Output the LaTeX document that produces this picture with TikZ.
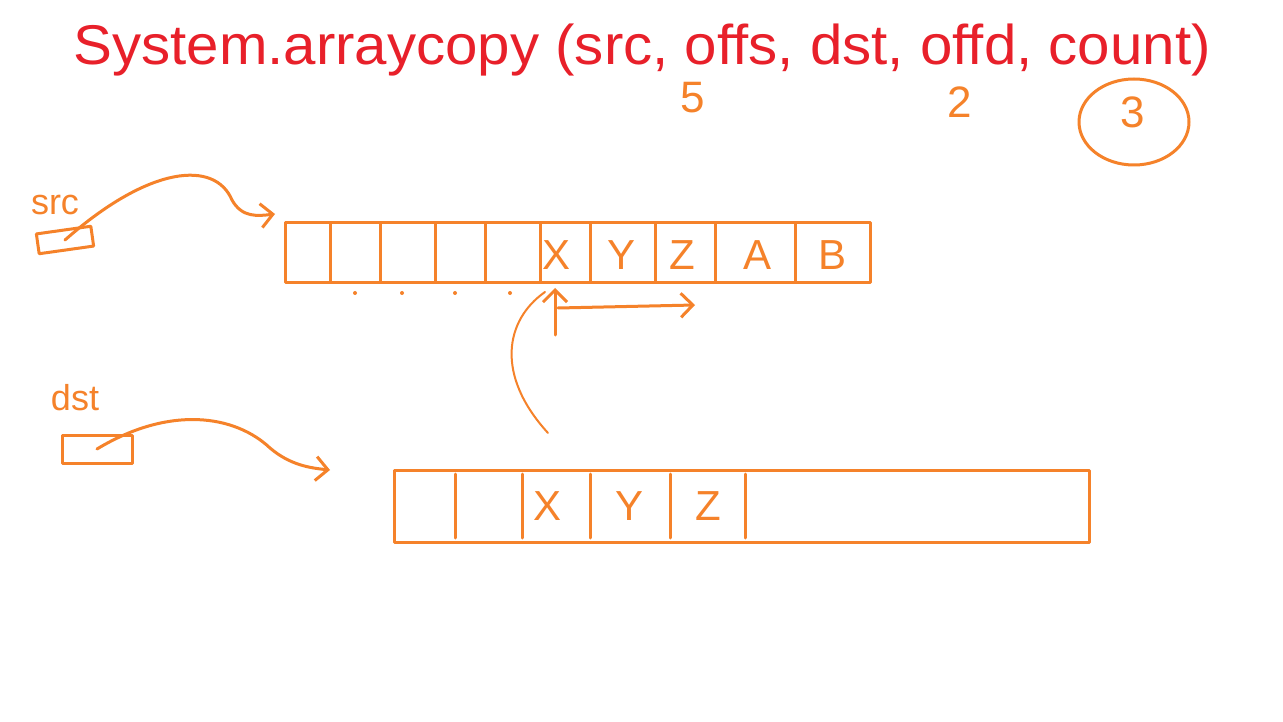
\documentclass[tikz,border=0pt]{standalone}
\usepackage{fontspec}
\setmainfont{Liberation Sans}
\usetikzlibrary{arrows.meta,shapes.geometric}
\definecolor{pen}{HTML}{F5822A}
\definecolor{redpen}{HTML}{E8202A}
\begin{document}
\begin{tikzpicture}[x=1pt,y=-1pt,
  ink/.style={draw=pen,line width=3pt,line cap=round,line join=round},
  arr/.style={ink,-{Straight Barb[length=12pt,width=24pt]}},
  cell/.style={text=pen,font=\fontsize{42}{46}\selectfont},
  lbl/.style={text=pen,font=\fontsize{36}{40}\selectfont},
  num/.style={text=pen,font=\fontsize{44}{48}\selectfont},
  box/.style={ink,inner sep=0pt},
  dot/.style={circle,fill=pen,inner sep=0pt,minimum size=4pt}
 ]
\useasboundingbox[fill=white] (0,0) rectangle (1283,722);
% title
\node[text=redpen,font=\fontsize{56}{64}\selectfont,xscale=1.04] (title) at (642,50) {System.arraycopy (src, offs, dst, offd, count)};
\node[num] (n5) at (693,98) {5};
\node[num] (n2) at (960,102) {2};
\node[num] (n3) at (1133,112) {3};
\node[ink,ellipse,minimum width=110pt,minimum height=86pt] (c3) at (1134,122) {};
% src
\node[lbl] (srclbl) at (55,205) {src};
\node[box,minimum width=55pt,minimum height=20pt,rotate=8] (srcbox) at (65,240) {};
\node[box,minimum width=585pt,minimum height=60pt] (srcarr) at (577.5,252.5) {};
\foreach \x in {330,380,435,485,540,590,655,715,795} \draw[ink] (\x,224) -- (\x,281);
\node[cell] (sX) at (557,255) {X};
\node[cell] (sY) at (622,255) {Y};
\node[cell] (sZ) at (682,255) {Z};
\node[cell] (sA) at (757,255) {A};
\node[cell] (sB) at (832,255) {B};
\foreach \x in {355,402,455,510} \node[dot] at (\x,293) {};
\coordinate (srcin) at (275,214);
\draw[arr] (srcbox.center) .. controls (150,165) and (215,160) .. (232,200) .. controls (242,218) and (258,216) .. (srcin);
% pointer arrows
\coordinate (ptr) at (555,288);
\coordinate (ptrtail) at (555,335);
\draw[arr] (ptrtail) -- (ptr);
\coordinate (right0) at (558,308);
\coordinate (right1) at (695,305);
\draw[arr] (right0) -- (right1);
\coordinate (curvestart) at (548,433);
\draw[ink,line width=2pt] (curvestart) .. controls (495,375) and (505,320) .. (545,292);
% dst
\node[lbl] (dstlbl) at (75,398) {dst};
\node[box,minimum width=70pt,minimum height=28pt] (dstbox) at (97,449) {};
\coordinate (dstin) at (330,470);
\draw[arr] (dstbox.center) .. controls (170,405) and (235,415) .. (270,448) .. controls (290,465) and (310,468) .. (dstin);
\node[box,minimum width=695pt,minimum height=72pt] (dstarr) at (742,506) {};
\foreach \x in {455,522,590,670,745} \draw[ink] (\x,474) -- (\x,538);
\node[cell] (dX) at (548,506) {X};
\node[cell] (dY) at (630,506) {Y};
\node[cell] (dZ) at (708,506) {Z};
\end{tikzpicture}
\end{document}
